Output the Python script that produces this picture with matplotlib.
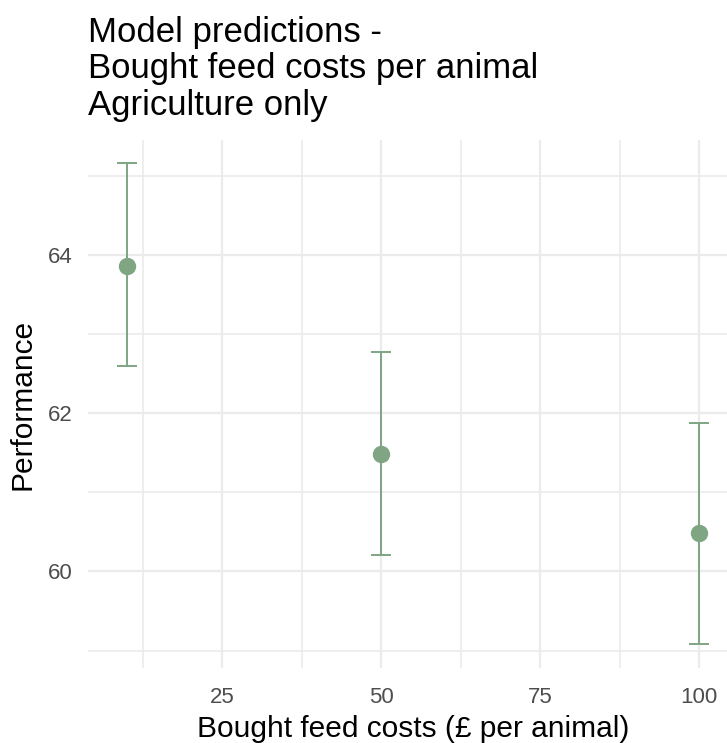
import numpy as np
import matplotlib.pyplot as plt
from matplotlib.ticker import MultipleLocator

# data
feed_cost = [10, 50, 100]
performance = [63.86, 61.48, 60.49]
ci_low = [62.60, 60.21, 59.08]
ci_high = [65.16, 62.77, 61.87]

green = '#7fa583'
grid_col = '#ebebeb'

plt.rcParams['font.family'] = ['Liberation Sans', 'DejaVu Sans']

fig = plt.figure(figsize=(7.27, 7.43), dpi=100)
ax = fig.add_axes([88 / 727, 75 / 743, 650 / 727, 528 / 743])

perf = np.array(performance)
yerr = np.vstack([perf - np.array(ci_low), np.array(ci_high) - perf])
ax.errorbar(feed_cost, perf, yerr=yerr, fmt='o', color=green, ecolor=green,
            elinewidth=1.4, capsize=7, capthick=1.4, markersize=11.5, zorder=3)

ax.set_xlim(3.85, 106.15)
ax.set_ylim(58.78, 65.45)
ax.xaxis.set_minor_locator(MultipleLocator(12.5))
ax.yaxis.set_minor_locator(MultipleLocator(1))
ax.set_xticks([25, 50, 75, 100])
ax.set_yticks([60, 62, 64])

ax.grid(which='major', color=grid_col, linewidth=1.6)
ax.grid(which='minor', color=grid_col, linewidth=1.2)
ax.set_axisbelow(True)
for s in ax.spines.values():
    s.set_visible(False)
ax.tick_params(which='both', length=0, labelsize=16, labelcolor='#4d4d4d')
ax.tick_params(axis='x', pad=14)
ax.tick_params(axis='y', pad=11)

ax.set_xlabel('Bought feed costs (£ per animal)', fontsize=21.5, labelpad=5)
ax.set_ylabel('Performance', fontsize=21.5, labelpad=8)

fig.text(88 / 727, 1 - 16 / 743,
         'Model predictions -\nBought feed costs per animal\nAgriculture only',
         fontsize=25, ha='left', va='top', linespacing=1.13)

fig.savefig('out.png', dpi=100)
